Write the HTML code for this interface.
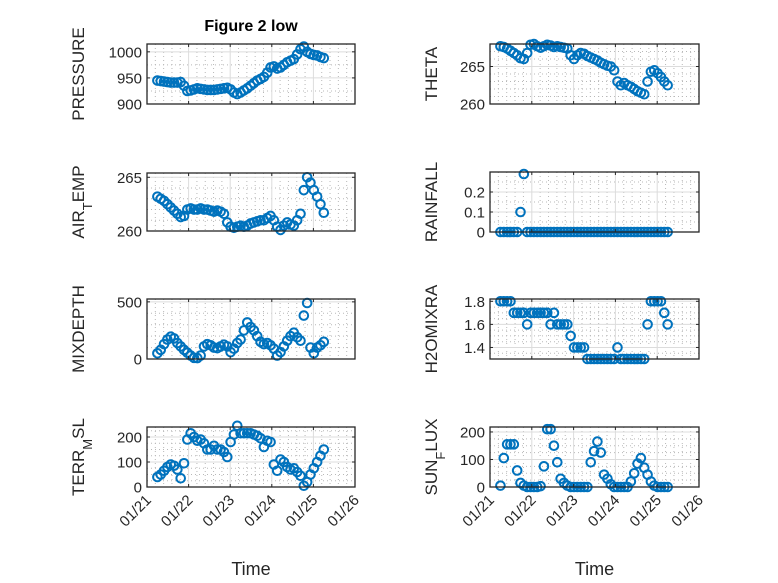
<!DOCTYPE html>
<html><head><meta charset="utf-8"><style>
html,body{margin:0;padding:0;background:#fff;}
svg{display:block;font-family:"Liberation Sans","DejaVu Sans",sans-serif;}
</style></head><body>
<svg id="fig" width="778" height="583" viewBox="0 0 778 583" xmlns="http://www.w3.org/2000/svg">
<rect width="778" height="583" fill="#fff"/>
<text x="251" y="31" text-anchor="middle" font-size="16" font-weight="bold" fill="#000">Figure 2 low</text>
</svg>
<script>
const times = [0.25,0.33,0.41,0.49,0.57,0.65,0.73,0.81,0.89,0.97,1.05,1.13,1.21,1.29,1.37,1.45,1.53,1.61,1.69,1.77,1.85,1.93,2.01,2.09,2.17,2.25,2.33,2.41,2.49,2.57,2.65,2.73,2.81,2.89,2.97,3.05,3.13,3.21,3.29,3.37,3.45,3.53,3.61,3.69,3.77,3.85,3.93,4.01,4.09,4.17,4.25];
const xTickLabels = ["01/21","01/22","01/23","01/24","01/25","01/26"];
const pressure = [945,944,943,942,941,941,941,942,935,925,926,928,930,929,928,927,927,927,928,929,930,931,928,922,919,922,926,930,935,940,945,948,952,960,970,972,968,970,975,980,983,986,995,1005,1010,1000,996,994,993,990,988];
const theta = [267.7,267.6,267.4,267.1,266.8,266.5,266.1,266,266.8,267.9,268,267.7,267.5,267.7,267.9,267.8,267.6,267.7,267.6,267.5,267.4,266.5,266,266.5,266.8,266.7,266.4,266.2,266,265.8,265.5,265.3,265.1,265,264.5,263,262.5,262.8,262.5,262.3,262,261.7,261.5,261.3,263,264.3,264.5,264.1,263.6,263,262.5];
const airTemp = [263.2,263,262.8,262.5,262.2,261.9,261.6,261.3,261.4,262,262.1,262,262,262.1,262,262,261.9,261.8,261.9,261.8,261.6,260.8,260.4,260.3,260.4,260.5,260.4,260.5,260.7,260.8,260.9,261,261,261.2,261.4,261,260.4,260.1,260.5,260.8,260.6,260.5,261,261.6,263.8,265,264.5,263.8,263.2,262.5,261.7];
const rainfall = [0,0,0,0,0,0,0.1,0.29,0,0,0,0,0,0,0,0,0,0,0,0,0,0,0,0,0,0,0,0,0,0,0,0,0,0,0,0,0,0,0,0,0,0,0,0,0,0,0,0,0,0,0];
const mixDepth = [50,80,130,170,195,180,140,110,80,55,30,10,8,30,110,130,120,100,95,110,125,110,60,90,140,170,250,320,280,250,200,150,130,140,120,90,30,60,110,160,200,230,190,160,380,490,100,50,100,120,150];
const h2oMix = [1.8,1.8,1.8,1.8,1.7,1.7,1.7,1.7,1.6,1.7,1.7,1.7,1.7,1.7,1.7,1.6,1.7,1.6,1.6,1.6,1.6,1.5,1.4,1.4,1.4,1.4,1.3,1.3,1.3,1.3,1.3,1.3,1.3,1.3,1.3,1.4,1.3,1.3,1.3,1.3,1.3,1.3,1.3,1.3,1.6,1.8,1.8,1.8,1.8,1.7,1.6];
const terrMsl = [40,50,65,80,90,85,70,35,95,190,215,200,185,190,175,150,150,165,150,150,140,120,180,210,245,215,215,215,215,210,205,195,160,185,180,90,65,110,100,80,70,75,60,45,5,20,50,75,100,125,150];
const sunFlux = [5,105,155,155,155,60,15,5,0,0,0,0,3,75,210,210,150,90,30,15,5,0,0,0,0,0,0,90,130,165,125,45,30,10,0,0,0,0,0,20,50,85,105,70,45,20,5,0,0,0,0];
const pressureTicks = [900,950,1000];
const thetaTicks = [260,265];
const airTicks = [260,265];
const rainTicks = [0,0.1,0.2];
const mixTicks = [0,500];
const h2oTicks = [1.4,1.6,1.8];
const terrTicks = [0,100,200];
const sunTicks = [0,100,200];

const NS = "http://www.w3.org/2000/svg";
const svg = document.getElementById('fig');
function mk(tag, attrs, parent){const e=document.createElementNS(NS,tag);for(const k in attrs)e.setAttribute(k,attrs[k]);(parent||svg).appendChild(e);return e;}

function panel(cfg){
  const {name,x0,x1,y0,y1,ymin,ymax,ticks,minorStep,values,label,bottom} = cfg;
  const g = mk('g',{});
  
  
  const xs = d => x0 + (d/5)*(x1-x0);
  const ys = v => y1 - (v-ymin)/(ymax-ymin)*(y1-y0);
  for(let d=0.2; d<5; d+=0.2){ if(Math.abs(d-Math.round(d))<1e-6) continue;
    mk('line',{x1:xs(d),x2:xs(d),y1:y0,y2:y1,stroke:'#b8b8b8','stroke-width':1,'stroke-dasharray':'1 3'},g);}
  for(let v=Math.ceil(ymin/minorStep)*minorStep; v<ymax; v+=minorStep){
    if(ticks.some(t=>Math.abs(t-v)<1e-9)) continue;
    mk('line',{x1:x0,x2:x1,y1:ys(v),y2:ys(v),stroke:'#b8b8b8','stroke-width':1,'stroke-dasharray':'1 3'},g);}
  for(let d=1; d<5; d++) mk('line',{x1:xs(d),x2:xs(d),y1:y0,y2:y1,stroke:'#dcdcdc','stroke-width':1},g);
  ticks.forEach(v=>mk('line',{x1:x0,x2:x1,y1:ys(v),y2:ys(v),stroke:'#dcdcdc','stroke-width':1},g));
  const dg = mk('g',{},g);
  
  
  values.forEach((v,i)=>{
    const c = mk('circle',{cx:xs(times[i]),cy:ys(v),r:4.3,fill:'none',stroke:'#0072BD','stroke-width':2},dg);
    
    
  });
  mk('rect',{x:x0,y:y0,width:x1-x0,height:y1-y0,fill:'none',stroke:'#262626','stroke-width':1.3},g);
  for(let d=0; d<=5; d++){ mk('line',{x1:xs(d),x2:xs(d),y1:y1,y2:y1-3,stroke:'#262626'},g); mk('line',{x1:xs(d),x2:xs(d),y1:y0,y2:y0+3,stroke:'#262626'},g);}
  ticks.forEach(v=>{
    mk('line',{x1:x0,x2:x0+3,y1:ys(v),y2:ys(v),stroke:'#262626'},g);
    mk('line',{x1:x1,x2:x1-3,y1:ys(v),y2:ys(v),stroke:'#262626'},g);
    const t = mk('text',{x:x0-5,y:ys(v)+5.5,'text-anchor':'end','font-size':15,fill:'#262626'},g);
    t.textContent = String(v);
    
    
  });
  const lx = cfg.labelX, ly = (y0+y1)/2;
  const yl = mk('text',{x:lx,y:ly,'text-anchor':'middle','font-size':17,fill:'#262626',transform:`rotate(-90 ${lx} ${ly})`},g);
  
  
  label.forEach(p=>{const s=mk('tspan',{},yl); s.textContent=p.t; if(p.sub){s.setAttribute('baseline-shift','sub');s.setAttribute('font-size','13');} else if(p.after){s.setAttribute('baseline-shift','0');}});
  if(bottom){
    xTickLabels.forEach((lab,d)=>{
      const tx = xs(d)+5, ty = y1+14;
      const t = mk('text',{x:tx,y:ty,'text-anchor':'end','font-size':15,fill:'#262626',transform:`rotate(-45 ${tx} ${ty})`},g);
      t.textContent = lab;
      
      
    });
    const xt = mk('text',{x:(x0+x1)/2,y:575,'text-anchor':'middle','font-size':18,fill:'#262626'},g);
    xt.textContent = 'Time';
    
    
  }
}
const L0=147,L1=355,R0=490,R1=699;
panel({name:'pressure',x0:L0,x1:L1,y0:44,y1:104,ymin:900,ymax:1015,ticks:pressureTicks,minorStep:25,values:pressure,label:[{t:'PRESSURE'}],labelX:84});
panel({name:'theta',x0:R0,x1:R1,y0:44,y1:104,ymin:260,ymax:268,ticks:thetaTicks,minorStep:1,values:theta,label:[{t:'THETA'}],labelX:437});
panel({name:'air-temp',x0:L0,x1:L1,y0:173,y1:231,ymin:260,ymax:265.4,ticks:airTicks,minorStep:1,values:airTemp,label:[{t:'AIR'},{t:'T',sub:true},{t:'EMP',after:true}],labelX:84});
panel({name:'rainfall',x0:R0,x1:R1,y0:172,y1:232,ymin:0,ymax:0.3,ticks:rainTicks,minorStep:0.05,values:rainfall,label:[{t:'RAINFALL'}],labelX:437});
panel({name:'mixdepth',x0:L0,x1:L1,y0:299,y1:359,ymin:0,ymax:525,ticks:mixTicks,minorStep:100,values:mixDepth,label:[{t:'MIXDEPTH'}],labelX:84});
panel({name:'h2omixra',x0:R0,x1:R1,y0:299,y1:359,ymin:1.3,ymax:1.82,ticks:h2oTicks,minorStep:0.05,values:h2oMix,label:[{t:'H2OMIXRA'}],labelX:437});
panel({name:'terr-msl',x0:L0,x1:L1,y0:427,y1:487,ymin:0,ymax:240,ticks:terrTicks,minorStep:25,values:terrMsl,label:[{t:'TERR'},{t:'M',sub:true},{t:'SL',after:true}],labelX:84,bottom:true});
panel({name:'sun-flux',x0:R0,x1:R1,y0:427,y1:487,ymin:0,ymax:218,ticks:sunTicks,minorStep:25,values:sunFlux,label:[{t:'SUN'},{t:'F',sub:true},{t:'LUX',after:true}],labelX:437,bottom:true});
</script>
</body></html>
